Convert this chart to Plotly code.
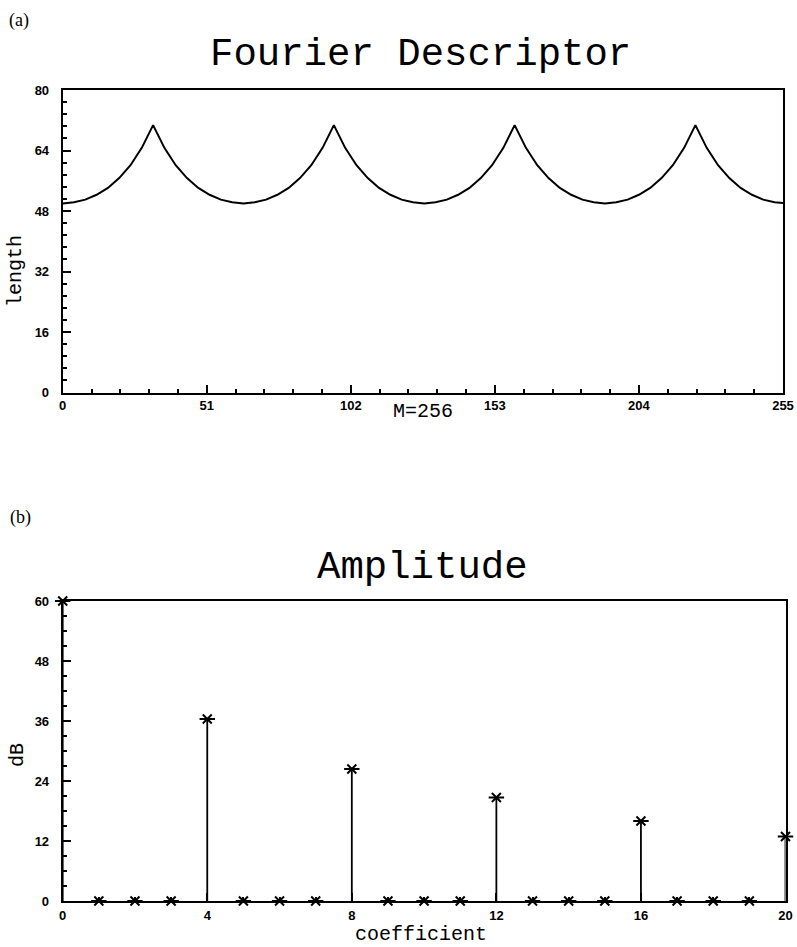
import plotly.graph_objects as go

# ---------------- data ----------------
fd_index = [0, 4, 8, 12, 16, 20, 24, 28, 32, 36, 40, 44, 48, 52, 56, 60,
            64, 68, 72, 76, 80, 84, 88, 92, 96, 100, 104, 108, 112, 116, 120, 124,
            128, 132, 136, 140, 144, 148, 152, 156, 160, 164, 168, 172, 176, 180, 184, 188,
            192, 196, 200, 204, 208, 212, 216, 220, 224, 228, 232, 236, 240, 244, 248, 252,
            255]
fd_length = [50.0, 50.3, 51.0, 52.3, 54.1, 56.7, 60.1, 64.7, 70.7, 64.7, 60.1, 56.7, 54.1, 52.3, 51.0, 50.3,
             50.0, 50.3, 51.0, 52.3, 54.1, 56.7, 60.1, 64.7, 70.7, 64.7, 60.1, 56.7, 54.1, 52.3, 51.0, 50.3,
             50.0, 50.3, 51.0, 52.3, 54.1, 56.7, 60.1, 64.7, 70.7, 64.7, 60.1, 56.7, 54.1, 52.3, 51.0, 50.3,
             50.0, 50.3, 51.0, 52.3, 54.1, 56.7, 60.1, 64.7, 70.7, 64.7, 60.1, 56.7, 54.1, 52.3, 51.0, 50.3,
             50.1]

coef = [0, 1, 2, 3, 4, 5, 6, 7, 8, 9, 10, 11, 12, 13, 14, 15, 16, 17, 18, 19, 20]
amp_db = [60.0, 0.0, 0.0, 0.0, 36.4, 0.0, 0.0, 0.0, 26.4, 0.0, 0.0, 0.0,
          20.7, 0.0, 0.0, 0.0, 16.0, 0.0, 0.0, 0.0, 12.9]

top_xticks = [0, 51, 102, 153, 204, 255]
top_yticks = [0, 16, 32, 48, 64, 80]
bot_xticks = [0, 4, 8, 12, 16, 20]
bot_yticks = [0, 12, 24, 36, 48, 60]

# stems built from the amplitude data
stem_x, stem_y = [], []
for c, v in zip(coef, amp_db):
    if v > 1:
        stem_x += [c, c, None]
        stem_y += [0, v, None]

W, H = 797, 947
def px(x):
    return x / W
def py(y):
    return 1 - y / H

fig = go.Figure()
fig.add_trace(go.Scatter(x=fd_index, y=fd_length, mode='lines',
                         line=dict(color='black', width=2),
                         xaxis='x', yaxis='y', showlegend=False, hoverinfo='skip'))
fig.add_trace(go.Scatter(x=stem_x, y=stem_y, mode='lines',
                         line=dict(color='black', width=1.8),
                         xaxis='x2', yaxis='y2', showlegend=False, hoverinfo='skip',
                         cliponaxis=False))
fig.add_trace(go.Scatter(x=coef, y=amp_db, mode='markers',
                         marker=dict(symbol='x-thin-open', size=9,
                                     line=dict(width=2, color='black'), color='black'),
                         xaxis='x2', yaxis='y2', showlegend=False, cliponaxis=False))
fig.add_trace(go.Scatter(x=coef, y=amp_db, mode='markers',
                         marker=dict(symbol='line-ew-open', size=11,
                                     line=dict(width=2, color='black'), color='black'),
                         xaxis='x2', yaxis='y2', showlegend=False, cliponaxis=False))

tickfont = dict(family='Liberation Sans', size=13, color='black', weight='bold')
def axis(rng, vals, minor_dtick, domain, anchor):
    return dict(range=rng, tickmode='array', tickvals=vals, ticktext=[str(v) for v in vals],
                showline=True, linecolor='black', linewidth=2, mirror=True,
                ticks='inside', ticklen=8, tickwidth=1.5, tickcolor='black',
                minor=dict(ticks='inside', ticklen=4, tickwidth=1.5, tickcolor='black',
                           tick0=0, dtick=minor_dtick, showgrid=False),
                showgrid=False, zeroline=False, tickfont=tickfont,
                domain=domain, anchor=anchor, automargin=False, fixedrange=True)

xa = axis([0, 255], top_xticks, 10.2, [px(62.7), px(783)], 'y')
ya = axis([0, 80], top_yticks, 3.2, [py(392.5), py(90)], 'x')
xb = axis([0, 20], bot_xticks, 1, [px(62.7), px(785.5)], 'y2')
yb = axis([0, 60], bot_yticks, 3, [py(901), py(601)], 'x2')
xa['ticklabelstandoff'] = 0
xb['ticklabelstandoff'] = 1
ya['ticklabelstandoff'] = 9
yb['ticklabelstandoff'] = 9

mono = 'Liberation Mono'
ann = [
    dict(text='(a)', x=px(19), y=py(20), font=dict(family='Liberation Serif', size=18)),
    dict(text='(b)', x=px(20), y=py(517), font=dict(family='Liberation Serif', size=18)),
    dict(text='Fourier Descriptor', x=px(420), y=py(55), font=dict(family=mono, size=39)),
    dict(text='Amplitude', x=px(422), y=py(568), font=dict(family=mono, size=39)),
    dict(text='length', x=px(15), y=py(271), textangle=-90, font=dict(family=mono, size=20)),
    dict(text='dB', x=px(17), y=py(755), textangle=-90, font=dict(family=mono, size=20)),
    dict(text='M=256', x=px(423), y=py(412), font=dict(family=mono, size=20)),
    dict(text='coefficient', x=px(421), y=py(934), font=dict(family=mono, size=20)),
]
for a in ann:
    a.update(xref='paper', yref='paper', showarrow=False, xanchor='center', yanchor='middle')
    a['font'].setdefault('color', 'black')

fig.update_layout(width=W, height=H, margin=dict(l=0, r=0, t=0, b=0),
                  paper_bgcolor='white', plot_bgcolor='white',
                  xaxis=xa, yaxis=ya, xaxis2=xb, yaxis2=yb,
                  annotations=ann, showlegend=False)

fig.write_html('out.html', config={'displayModeBar': False},
               post_script="document.body.style.margin='0';document.body.style.overflow='hidden';")
